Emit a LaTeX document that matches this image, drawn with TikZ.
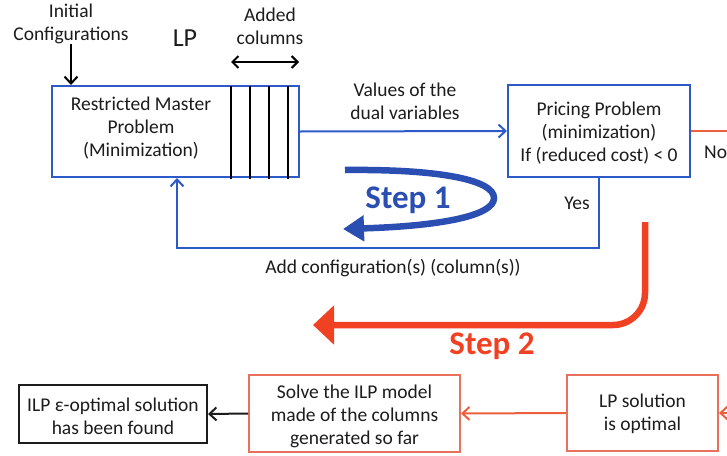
\documentclass[tikz,border=0pt]{standalone}
\usepackage{fontspec}
\setmainfont{Carlito}
\usetikzlibrary{arrows.meta}
\definecolor{bluec}{RGB}{45,90,200}
\definecolor{stepblue}{RGB}{42,78,178}
\definecolor{orangec}{RGB}{235,95,60}
\definecolor{boxor}{RGB}{232,112,92}
\definecolor{steporange}{RGB}{240,65,35}
\definecolor{txtc}{RGB}{28,28,28}
\tikzset{
  txt/.style={align=center, text=txtc, font=\fontsize{19.5}{23}\selectfont, inner sep=0pt},
  bluebox/.style={draw=bluec, line width=2pt, inner sep=0pt},
  orbox/.style={draw=boxor, line width=2pt, inner sep=0pt},
  blkbox/.style={draw=txtc, line width=2pt, inner sep=0pt},
  barb/.style={-{Straight Barb[length=7pt,width=13pt,line width=2pt]}},
  conn/.style={line width=2pt},
}
\begin{document}
\begin{tikzpicture}[x=1pt,y=-1pt]
\useasboundingbox (0,0) rectangle (727,455);
\clip (0,0) rectangle (727,455);
\fill[white] (0,0) rectangle (727,455);
% top texts
\node[txt] (init) at (71,24) {Initial\\Configurations};
\node[txt, font=\fontsize{26}{30}\selectfont] (lp) at (185,38) {LP};
\node[txt] (added) at (270,26) {Added\\columns};
% RMP box
\node[bluebox, minimum width=247pt, minimum height=91pt] (rmp) at (175.5,131.5) {};
\node[txt] (rmptext) at (141,128) {Restricted Master\\Problem\\(Minimization)};
\foreach \cx in {231,250,269,288} {\draw[line width=2pt, black] (\cx,86) -- (\cx,179);}
% added columns arrow
\coordinate (ca) at (231,62);
\coordinate (cb) at (299,62);
\draw[line width=2pt, black, {Straight Barb[length=6pt,width=12pt]}-{Straight Barb[length=6pt,width=12pt]}] (ca) -- (cb);
\draw[conn, black, barb] (init.south) -- (init.south |- rmp.north);
% pricing box
\node[bluebox, minimum width=182pt, minimum height=92pt] (pp) at (599,131) {};
\node[txt] (pptext) at (599,133) {Pricing Problem\\(minimization)\\If (reduced cost) < 0};
\draw[conn, bluec, barb] (rmp.east) -- (pp.west);
\node[txt] (dual) at (405,101) {Values of the\\dual variables};
% yes loop
\coordinate (fb) at (177,248);
\draw[conn, bluec, barb] (pp.south) |- (fb) -- (fb |- rmp.south);
\node[txt] (yes) at (577,203) {Yes};
\node[txt] (addconf) at (393,268) {Add configuration(s) (column(s))};
% step 1
\draw[line width=6.5pt, stepblue, -{Triangle[length=21pt,width=25pt]}]
  (345,170) .. controls (440,169) and (494,180) .. (494,198)
  .. controls (494,216) and (440,226) .. (343,229);
\node[txt, text=stepblue, font=\fontsize{33}{36}\selectfont\bfseries] (step1) at (408,200) {Step 1};
% step 2
\draw[line width=6.5pt, steporange, rounded corners=32pt, -{Triangle[length=21pt,width=38pt]}]
  (645,222) -- (645,325) -- (313,325);
\node[txt, text=steporange, font=\fontsize{33}{36}\selectfont\bfseries] (step2) at (492,346) {Step 2};
% no
\node[txt, anchor=west] (no) at (704,152) {No};
% bottom boxes
\node[orbox, minimum width=151pt, minimum height=76pt] (lps) at (642.5,413) {};
\node[txt] (lpstext) at (642.5,414) {LP solution\\is optimal};
\node[orbox, minimum width=211pt, minimum height=77pt] (solve) at (354.5,413.5) {};
\node[txt] (solvetext) at (354.5,416) {Solve the ILP model\\made of the columns\\generated so far};
\node[blkbox, minimum width=188pt, minimum height=58pt] (ilp) at (113,414) {};
\node[txt] (ilptext) at (113,416) {ILP ε-optimal solution\\has been found};
\coordinate (offr) at (770,131);
\draw[conn, orangec, barb] (pp.east) -- (offr) |- (lps.east);
\draw[conn, orangec, barb] (lps.west) -- (solve.east);
\draw[conn, txtc, barb] (solve.west) -- (ilp.east);
\end{tikzpicture}
\end{document}
